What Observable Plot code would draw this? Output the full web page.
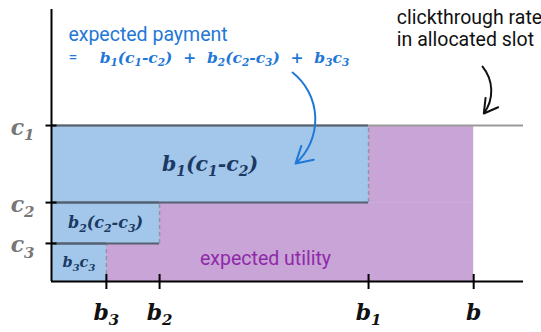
<!DOCTYPE html>
<html>
<head>
<meta charset="utf-8">
<script src="https://cdn.jsdelivr.net/npm/d3@7"></script>
<script src="https://cdn.jsdelivr.net/npm/@observablehq/plot@0.6"></script>
<style>
  html, body { margin: 0; padding: 0; background: #fff; }
  svg { display: block; }
</style>
</head>
<body>
<div id="chart"></div>
<script>
// ---- data ----
const bidLabels = ["b_1", "b_2", "b_3"];
const bidValues = [7.51, 2.56, 1.30];        // b1, b2, b3
const ownBidLabel = "b";
const ownBid = 10;
const ctrLabels = ["c_1", "c_2", "c_3"];
const ctrValues = [1.0, 0.506, 0.244];       // c1, c2, c3
const areaLabels = ["b_1(c_1-c_2)", "b_2(c_2-c_3)", "b_3c_3"];
const xMax = 11.18;
const yMax = 1.744;

// annotations (data units)
const notes = [
  {x: 0.40, y: 1.583, text: "expected payment", kind: "payTitle"},
  {x: 0.40, y: 1.436, text: "=", kind: "payEq"},
  {x: 1.14, y: 1.436, text: "b_1(c_1-c_2)  +  b_2(c_2-c_3)  +  b_3c_3", kind: "payFormula"},
  {x: 8.18, y: 1.625, text: "clickthrough rate\nin allocated slot", kind: "ctr"},
  {x: 5.07, y: 0.147, text: "expected utility", kind: "utility"}
];
const paymentArrow = [{x1: 5.71, y1: 1.34, x2: 5.78, y2: 0.756}];
const ctrArrow = [{x1: 10.21, y1: 1.378, x2: 10.24, y2: 1.077}];

// ---- derived tables ----
const slots = bidValues.map((b, i) => ({
  b, top: ctrValues[i], bottom: i + 1 < ctrValues.length ? ctrValues[i + 1] : 0,
  label: areaLabels[i]
}));
const xTicks = [...bidValues, ownBid];
const xTickLabels = [...bidLabels, ownBidLabel];

const blue = "#a3c7eb";
const purple = "#c9a4d7";
const serif = "'DejaVu Serif', serif";
const sans = "Roboto, 'Noto Sans', sans-serif";

const chart = Plot.plot({
  width: 541,
  height: 332,
  marginLeft: 51,
  marginRight: 18,
  marginTop: 9,
  marginBottom: 51,
  x: {domain: [0, xMax], axis: null},
  y: {domain: [0, yMax], axis: null},
  marks: [
    // regions
    Plot.rect(slots, {x1: 0, x2: "b", y1: "bottom", y2: "top", fill: blue}),
    Plot.rect(slots, {x1: "b", x2: ownBid, y1: "bottom", y2: "top", fill: purple}),
    // dashed verticals at bids
    Plot.ruleX(slots, {x: "b", y1: "bottom", y2: "top", stroke: "#8a97a6", strokeWidth: 1.5, strokeDasharray: "4,3"}),
    // clickthrough line at c1
    Plot.ruleY([ctrValues[0]], {x1: 0, x2: xMax, stroke: "#9a9a9a", strokeWidth: 2}),
    // blue region edges
    Plot.ruleY(slots, {y: "top", x1: 0, x2: "b", stroke: "#546170", strokeWidth: 2}),
    Plot.ruleY(slots.filter(s => s.bottom > 0), {y: "bottom", x1: 0, x2: "b", stroke: "#546170", strokeWidth: 2}),
    // axes lines
    Plot.ruleX([0], {y1: 0, y2: yMax, stroke: "#000", strokeWidth: 2}),
    Plot.ruleY([0], {x1: 0, x2: xMax, stroke: "#000", strokeWidth: 2}),
    // ticks
    Plot.axisX(xTicks, {tickSize: 15, dy: -7, strokeWidth: 2, stroke: "#000", tickFormat: () => "", label: null}),
    Plot.axisY(ctrValues, {tickSize: 11, dx: 5.5, strokeWidth: 2, stroke: "#000", tickFormat: () => "", label: null}),
    // tick labels
    Plot.text(xTicks, {x: d => d, y: 0, text: (d, i) => xTickLabels[i], dy: 31, fontSize: 22, fontWeight: "bold", fontStyle: "italic", fontFamily: serif, fill: "#111"}),
    Plot.text(ctrValues, {x: 0, y: d => d, text: (d, i) => ctrLabels[i], dx: -17, dy: 2, textAnchor: "end", fontSize: 22, fontWeight: "bold", fontStyle: "italic", fontFamily: serif, fill: "#777"}),
    // area labels
    Plot.text(slots, {x: d => d.b / 2, y: d => (d.top + d.bottom) / 2, text: "label", fontSize: (d, i) => [20.5, 16, 14.5][i], fontWeight: "bold", fontStyle: "italic", fontFamily: serif, fill: "#1b3a63"}),
    // annotations
    Plot.text(notes.filter(n => n.kind === "payTitle"), {x: "x", y: "y", text: "text", textAnchor: "start", fontSize: 19.5, fontFamily: sans, fill: "#1f78d6"}),
    Plot.text(notes.filter(n => n.kind === "payEq"), {x: "x", y: "y", text: "text", textAnchor: "start", fontSize: 16, fontFamily: sans, fill: "#1f78d6"}),
    Plot.text(notes.filter(n => n.kind === "payFormula"), {x: "x", y: "y", text: "text", textAnchor: "start", fontSize: 15.5, fontWeight: "bold", fontStyle: "italic", fontFamily: serif, fill: "#1f78d6"}),
    Plot.text(notes.filter(n => n.kind === "ctr"), {x: "x", y: "y", text: "text", textAnchor: "start", fontSize: 19.5, lineHeight: 1.13, fontFamily: sans, fill: "#111"}),
    Plot.text(notes.filter(n => n.kind === "utility"), {x: "x", y: "y", text: "text", fontSize: 19.5, fontFamily: sans, fill: "#8e2aa8"}),
    Plot.arrow(paymentArrow, {x1: "x1", y1: "y1", x2: "x2", y2: "y2", stroke: "#1f78d6", bend: 50, strokeWidth: 2, headLength: 14}),
    Plot.arrow(ctrArrow, {x1: "x1", y1: "y1", x2: "x2", y2: "y2", stroke: "#111", bend: 38, strokeWidth: 2, headLength: 12})
  ]
});

document.getElementById("chart").appendChild(chart);

// typeset subscripts: "_d" -> lowered smaller digit
d3.select(chart).selectAll("text").each(function () {
  const s = this.textContent;
  if (!s.includes("_") || this.querySelector("tspan")) return;
  const fs = parseFloat(getComputedStyle(this).fontSize) || 16;
  const subSize = Math.round(fs * 0.68 * 10) / 10;
  const shift = Math.round(fs * 0.25 * 10) / 10;
  const el = d3.select(this);
  el.text(null);
  let buf = "";
  let shifted = false;
  const flush = () => {
    if (!buf) return;
    const t = el.append("tspan").attr("font-size", fs + "px").text(buf);
    if (shifted) { t.attr("dy", -shift); shifted = false; }
    buf = "";
  };
  for (let i = 0; i < s.length; i++) {
    if (s[i] === "_" && i + 1 < s.length) {
      flush();
      el.append("tspan").attr("font-size", subSize + "px").attr("dy", shift).text(s[i + 1]);
      shifted = true;
      i++;
    } else {
      buf += s[i];
    }
  }
  flush();
});
</script>
</body>
</html>
